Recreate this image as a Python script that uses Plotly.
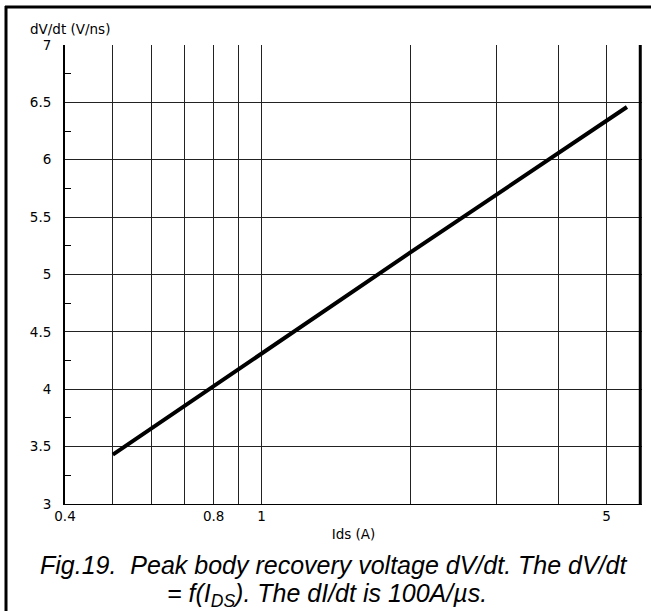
import plotly.graph_objects as go

# Data
ids_a = [0.5, 1.0, 2.0, 5.5]
dvdt = [3.43, 4.31, 5.19, 6.46]

x_labeled = [0.4, 0.8, 1, 5]
x_labels = ["0.4", "0.8", "1", "5"]
x_unlabeled_grid = [0.5, 0.6, 0.7, 0.9, 2, 3, 4]
y_tickvals = [3, 3.5, 4, 4.5, 5, 5.5, 6, 6.5, 7]
y_ticktext = ["3", "3.5", "4", "4.5", "5", "5.5", "6", "6.5", "7"]
y_minor = [3.25, 3.75, 4.25, 4.75, 5.25, 5.75, 6.25, 6.75]

W, H = 651, 611
L, R, T, B = 65, 9, 45, 107
pw = W - L - R
ph = H - T - B

def px(x):
    return (x - L) / pw

def py(y):
    return (H - B - y) / ph

tick_font = dict(family="DejaVu Sans, Liberation Sans, Arial", size=13.5, color="black")
cap_font = dict(family="Liberation Sans, Arial", size=25, color="black")

fig = go.Figure()
fig.add_trace(go.Scatter(x=ids_a, y=dvdt, mode="lines",
                         line=dict(color="black", width=4), showlegend=False))

fig.update_layout(
    width=W, height=H,
    margin=dict(l=L, r=R, t=T, b=B),
    paper_bgcolor="white", plot_bgcolor="white",
    showlegend=False,
    xaxis=dict(
        type="log", range=[-0.39794, 0.77085],
        tickmode="array", tickvals=x_labeled, ticktext=x_labels,
        showgrid=True, gridcolor="#222", gridwidth=1,
        showline=True, linecolor="black", linewidth=1,
        ticks="", tickfont=tick_font, zeroline=False,
        minor=dict(tickmode="array", tickvals=x_unlabeled_grid, ticks="",
                   showgrid=True, gridcolor="#222", gridwidth=1),
        title=dict(text="Ids (A)", font=tick_font, standoff=6),
    ),
    yaxis=dict(
        range=[3, 7],
        tickmode="array", tickvals=y_tickvals, ticktext=y_ticktext,
        showgrid=True, gridcolor="#222", gridwidth=1,
        showline=True, linecolor="black", linewidth=2,
        ticks="", tickfont=tick_font, zeroline=False, ticklabelstandoff=9,
        minor=dict(tickmode="array", tickvals=y_minor,
                   ticks="inside", ticklen=6, tickcolor="black", tickwidth=1, showgrid=False),
    ),
    shapes=[
        # plot right border (thick)
        dict(type="line", xref="paper", yref="paper", x0=0.997, x1=0.997, y0=0, y1=1,
             line=dict(color="black", width=3), layer="above"),
        # outer frame left
        dict(type="line", xref="paper", yref="paper", x0=px(6), x1=px(6), y0=py(6), y1=py(611),
             line=dict(color="black", width=3)),
        # outer frame top
        dict(type="line", xref="paper", yref="paper", x0=px(5), x1=px(651), y0=py(7), y1=py(7),
             line=dict(color="black", width=3)),
    ],
    annotations=[
        dict(text="dV/dt (V/ns)", xref="paper", yref="paper", x=px(28), y=py(29),
             xanchor="left", yanchor="middle", showarrow=False, font=tick_font),
        dict(text="<i>Fig.19.  Peak body recovery voltage dV/dt. The dV/dt</i>",
             xref="paper", yref="paper", x=px(333), y=py(565),
             xanchor="center", yanchor="middle", showarrow=False, font=cap_font),
        dict(text="<i>= f(I<sub>DS</sub>). The dI/dt is 100A/µs.</i>",
             xref="paper", yref="paper", x=px(327), y=py(595),
             xanchor="center", yanchor="middle", showarrow=False, font=cap_font),
    ],
)

fig.write_html("out.html", config={"displayModeBar": False},
               post_script="document.body.style.margin='0';document.body.style.overflow='hidden';")
